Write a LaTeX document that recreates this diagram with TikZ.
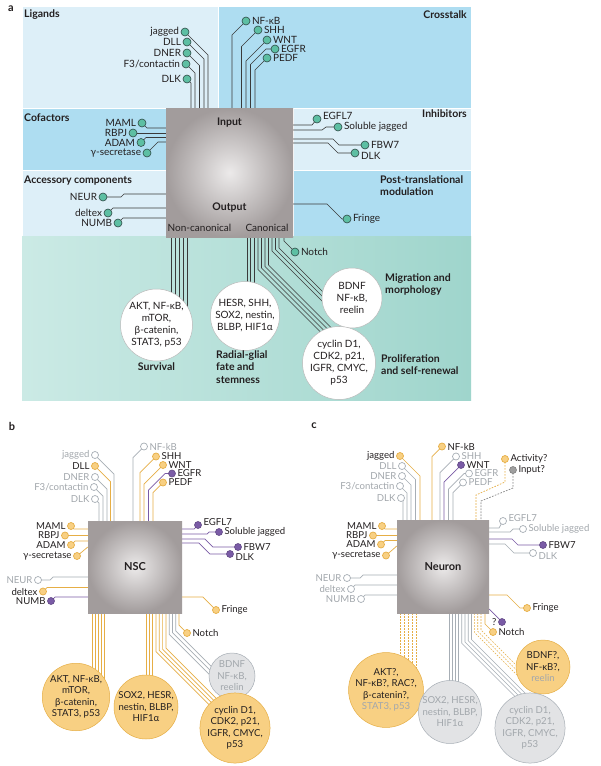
\documentclass[tikz,border=0pt]{standalone}
\usepackage{fontspec}
\setmainfont{Lato}
\pgfdeclarelayer{bg}
\pgfdeclarelayer{wires}
\pgfsetlayers{bg,wires,main}

\definecolor{ltblue}{HTML}{DDEFF8}
\definecolor{mdblue}{HTML}{AEDDF1}
\definecolor{tealA}{HTML}{CBEAE5}
\definecolor{tealB}{HTML}{9FD5CC}
\definecolor{tealdot}{HTML}{5DBFA3}
\definecolor{dotrim}{HTML}{2F4A46}
\definecolor{wdark}{HTML}{3A3A3A}
\definecolor{gold}{HTML}{E6AE45}
\definecolor{goldfill}{HTML}{F8D083}
\definecolor{grw}{HTML}{A7AEB5}
\definecolor{grfill}{HTML}{E2E3E5}
\definecolor{grtxt}{HTML}{A2A7AC}
\definecolor{purp}{HTML}{7A5BA6}
\definecolor{txt}{HTML}{231F20}
\definecolor{boxin}{HTML}{ECEAEA}
\definecolor{boxout}{HTML}{A29C9C}

\tikzset{
  lab/.style={font=\fontsize{10}{11}\selectfont, text=txt, inner xsep=1.5pt, inner ysep=0pt},
  blab/.style={lab, font=\fontsize{9.6}{11}\selectfont},
  glab/.style={blab, text=grtxt},
  head/.style={font=\fontsize{10.5}{12.5}\selectfont\bfseries, text=txt, inner sep=0pt},
  plabel/.style={font=\fontsize{11}{12}\selectfont\bfseries, text=txt, inner sep=0pt},
  region/.style={draw=white, line width=0.8pt},
  adot/.style={circle, fill=tealdot, draw=dotrim, line width=0.6pt, minimum size=8pt, inner sep=0pt},
  ydot/.style={circle, fill=goldfill, draw=gold, line width=0.7pt, minimum size=7pt, inner sep=0pt},
  gdot/.style={circle, fill=white, draw=grw, line width=0.7pt, minimum size=7pt, inner sep=0pt},
  pdot/.style={circle, fill=purp, draw=purp!80!black, line width=0.6pt, minimum size=7pt, inner sep=0pt},
  kdot/.style={circle, fill=gray!75, draw=gray, line width=0.6pt, minimum size=7pt, inner sep=0pt},
  awire/.style={draw=wdark, line width=0.6pt},
  ywire/.style={draw=gold, line width=0.7pt},
  gwire/.style={draw=grw, line width=0.7pt},
  pwire/.style={draw=purp, line width=0.7pt},
  dwire/.style={ywire, dash pattern=on 1.6pt off 1.4pt},
  kwire/.style={draw=gray, line width=0.7pt, dash pattern=on 1.6pt off 1.4pt},
  nbox/.style={inner color=boxin, outer color=boxout, inner sep=0pt, font=\fontsize{11}{12}\selectfont\bfseries, text=txt},
  acirc/.style={circle, fill=white, draw=gray!55, line width=0.5pt, inner sep=0pt, align=center, font=\fontsize{10}{12}\selectfont, text=txt},
  ycirc/.style={acirc, fill=goldfill, draw=gold, font=\fontsize{9.6}{11.5}\selectfont},
  gcirc/.style={acirc, fill=grfill, draw=grw, text=grtxt, font=\fontsize{9.6}{11.5}\selectfont}
}

\begin{document}
\begin{tikzpicture}[x=1pt, y=-1pt]
\useasboundingbox (0,0) rectangle (601,766);

\begin{pgfonlayer}{bg}
  \fill[white] (0,0) rectangle (601,766);
  % a: regions
  \path[region, fill=ltblue] (22,6) rectangle (218,108);
  \path[region, fill=mdblue] (218,6) rectangle (471,108);
  \path[region, fill=mdblue] (22,108) rectangle (166,170);
  \path[region, fill=ltblue] (293,108) rectangle (471,170);
  \path[region, fill=ltblue] (22,170) rectangle (166,236);
  \path[region, fill=mdblue] (293,170) rectangle (471,236);
  \shade[left color=tealA, right color=tealB] (22,236.5) rectangle (471,400);
\end{pgfonlayer}

% ---------- a ----------
\node[plabel] (aTag) at (11,9) {a};
\node[head, anchor=west] (aLig) at (24,15) {Ligands};
\node[head, anchor=east] (aCross) at (467,15) {Crosstalk};
\node[head, anchor=west] (aCof) at (24,118) {Cofactors};
\node[head, anchor=east] (aInh) at (467,114) {Inhibitors};
\node[head, anchor=west] (aAcc) at (24,181) {Accessory components};
\node[head, anchor=north west, align=left] (aPost) at (380,175) {Post-translational\\modulation};

\node[nbox, minimum width=127pt, minimum height=129pt] (aBox) at (229.5,172.5) {};
\node[head] (aIn) at (229.5,123) {Input};
\node[head] (aOut) at (229.5,208) {Output};
\node[lab] (aNonc) at (199.5,228) {Non-canonical};
\node[lab] (aCan) at (267,228) {Canonical};

% ligands
\foreach \n/\lbl/\x/\y/\tx in {aJag/jagged/185/32/208, aDll/DLL/187/42/204, aDner/DNER/187/53/199.5, aF3/{F3/contactin}/186/64/195, aDlk/DLK/187/79/191}{
  \node[adot, label={[lab]left:\lbl}] (\n) at (\x,\y) {};
  \begin{pgfonlayer}{wires}
    \draw[awire] (\n.center) -- ++({\tx-\x},{\tx-\x}) -- (\tx,0 |- aBox.north);
  \end{pgfonlayer}
}
% crosstalk
\foreach \n/\lbl/\x/\y/\tx in {aNfkb/NF-κB/246/21/232, aShh/SHH/258/30/241.5, aWnt/WNT/267/40/246, aPedf/PEDF/267/58/255}{
  \node[adot, label={[lab]right:\lbl}] (\n) at (\x,\y) {};
  \begin{pgfonlayer}{wires}
    \draw[awire] (\n.center) -- ++({\tx-\x},{\x-\tx}) -- (\tx,0 |- aBox.north);
  \end{pgfonlayer}
}
\node[adot, label={[lab]right:EGFR}] (aEgfr) at (275,49) {};

% cofactors, accessory
\node[adot, label={[lab]left:MAML}] (aMaml) at (142,123) {};
\node[adot, label={[lab]left:RBPJ}] (aRbpj) at (133,133) {};
\node[adot, label={[lab]left:ADAM}] (aAdam) at (141,142.5) {};
\node[adot, label={[lab]left:γ-secretase}] (aGsec) at (147,153) {};
\node[adot, label={[lab]left:NEUR}] (aNeur) at (103,197) {};
\node[adot, label={[lab]left:deltex}] (aDelt) at (108,213) {};
\node[adot, label={[lab]left:NUMB}] (aNumb) at (118,223) {};

% inhibitors, modulation
\node[adot, label={[lab,yshift=3pt]right:EGFL7}] (aEgfl) at (317,119) {};
\node[adot, label={[lab]right:Soluble jagged}] (aSolj) at (338,127) {};
\node[adot, label={[lab]right:FBW7}] (aFbw) at (365,145) {};
\node[adot, label={[lab,yshift=-3pt]right:DLK}] (aDlkR) at (355,153) {};
\node[adot, label={[lab]right:Fringe}] (aFrin) at (347,219) {};
\node[adot, label={[lab]right:Notch}] (aNotch) at (295,252) {};

% outputs
\node[acirc, minimum size=72pt] (aSurv) at (156.5,325) {AKT, NF-κB,\\mTOR,\\β-catenin,\\STAT3, p53};
\node[acirc, minimum size=69pt] (aRad) at (245,316) {HESR, SHH,\\SOX2, nestin,\\BLBP, HIF1α};
\node[acirc, minimum size=60pt] (aBdnf) at (352,298) {BDNF\\NF-κB,\\reelin};
\node[acirc, minimum size=66pt] (aCyc) at (339,363) {cyclin D1,\\CDK2, p21,\\IGFR, CMYC,\\p53};
\node[head] (aSurvL) at (156.5,367) {Survival};
\node[head, anchor=north west, align=left] (aRadL) at (216,350) {Radial-glial\\fate and\\stemness};
\node[head, anchor=north west, align=left] (aMigL) at (385,273) {Migration and\\morphology};
\node[head, anchor=north west, align=left] (aProL) at (381,354) {Proliferation\\and self-renewal};

\begin{pgfonlayer}{wires}
  \draw[awire] (aEgfr.center) -- (266,49) -- (250.5,64.5) -- (250.5,0 |- aBox.north);
  \draw[awire] (aMaml.center) -- ++(5,5) -- (0,128 -| aBox.west);
  \draw[awire] (aRbpj.center) -- (0,133 -| aBox.west);
  \draw[awire] (aAdam.center) -- ++(5,-5) -- (0,137.5 -| aBox.west);
  \draw[awire] (aGsec.center) -- ++(11,-11) -- (0,142 -| aBox.west);
  \draw[awire] (aNeur.center) -- ++(18,0) -- ++(3,-3) -- (0,194 -| aBox.west);
  \draw[awire] (aDelt.center) -- ++(5,-5) -- (0,208 -| aBox.west);
  \draw[awire] (aNumb.center) -- ++(5,-5) -- (0,218 -| aBox.west);
  \draw[awire] (aEgfl.center) -- (312,125) -- (0,125 -| aBox.east);
  \draw[awire] (aSolj.center) -- (326,127) -- (322,130) -- (0,130 -| aBox.east);
  \draw[awire] (aFbw.center) -- (339,145) -- (333,139) -- (0,139 -| aBox.east);
  \draw[awire] (aDlkR.center) -- (338,153) -- (328,143) -- (0,143 -| aBox.east);
  \draw[awire] (aFrin.center) -- (342,219) -- (327,204) -- (0,204 -| aBox.east);
  \draw[awire] (aNotch.center) -- (284,241) -- (284,0 |- aBox.south);
  \foreach \x in {171,175,179,183,187}
    \draw[awire] (\x,0 |- aBox.south) -- (\x,315);
  \foreach \x in {247,250.5,254}
    \draw[awire] (\x,0 |- aBox.south) -- (\x,300);
  \foreach \x/\yb in {258/269.5, 261.5/268, 265/266.5, 268.5/265}
    \draw[awire] (\x,0 |- aBox.south) -- (\x,\yb) -- ++({345-\x},{345-\x});
  \foreach \x/\yb in {272/251, 275.5/249.5, 279/248}
    \draw[awire] (\x,0 |- aBox.south) -- (\x,\yb) -- ++({340-\x},{340-\x});
\end{pgfonlayer}

% ---------- b ----------
\node[plabel] (bTag) at (12,426) {b};
\node[nbox, minimum width=94pt, minimum height=92pt] (bBox) at (135,567) {NSC};

\foreach \n/\lbl/\dt/\wt/\st/\x/\y/\tx in {bJag/jagged/gdot/gwire/glab/95/455/114, bDll/DLL/ydot/ywire/blab/95/466/110.5, bDner/DNER/gdot/gwire/glab/95/477/107, bF3/{F3/contactin}/gdot/gwire/glab/94/487/103, bDlk/DLK/gdot/gwire/glab/95/499/99}{
  \node[\dt, label={[\st]left:\lbl}] (\n) at (\x,\y) {};
  \begin{pgfonlayer}{wires}
    \draw[\wt] (\n.center) -- ++({\tx-\x},{\tx-\x}) -- (\tx,0 |- bBox.north);
  \end{pgfonlayer}
}
\foreach \n/\lbl/\dt/\wt/\st/\x/\y/\tx in {bNfkb/NF-kB/gdot/gwire/glab/144/446.5/133, bShh/SHH/ydot/ywire/blab/156/456.5/140, bWnt/WNT/ydot/ywire/blab/163/465/144, bPedf/PEDF/ydot/ywire/blab/163/482.5/153}{
  \node[\dt, label={[\st]right:\lbl}] (\n) at (\x,\y) {};
  \begin{pgfonlayer}{wires}
    \draw[\wt] (\n.center) -- ++({\tx-\x},{\x-\tx}) -- (\tx,0 |- bBox.north);
  \end{pgfonlayer}
}
\node[pdot, label={[blab]right:EGFR}] (bEgfr) at (172,473.5) {};

\node[ydot, label={[blab]left:MAML}] (bMaml) at (71,526) {};
\node[ydot, label={[blab]left:RBPJ}] (bRbpj) at (65,535.5) {};
\node[ydot, label={[blab]left:ADAM}] (bAdam) at (71,545) {};
\node[ydot, label={[blab]left:γ-secretase}] (bGsec) at (77,556) {};
\node[gdot, label={[glab]left:NEUR}] (bNeur) at (38,580) {};
\node[ydot, label={[blab]left:deltex}] (bDelt) at (43,591.5) {};
\node[pdot, label={[blab]left:NUMB}] (bNumb) at (51,601) {};

\node[pdot, label={[blab,yshift=3pt]right:EGFL7}] (bEgfl) at (198,525) {};
\node[pdot, label={[blab]right:Soluble jagged}] (bSolj) at (219,532) {};
\node[pdot, label={[blab]right:FBW7}] (bFbw) at (238,547) {};
\node[pdot, label={[blab,yshift=-3pt]right:DLK}] (bDlkR) at (230,554) {};
\node[ydot, label={[blab]right:Fringe}] (bFrin) at (216,610) {};
\node[ydot, label={[blab]right:Notch}] (bNotch) at (187,633) {};

\node[ycirc, minimum size=64pt] (bAkt) at (76,697) {AKT, NF-κB,\\mTOR,\\β-catenin,\\STAT3, p53};
\node[ycirc, minimum size=64pt] (bSox) at (146,707) {SOX2, HESR,\\nestin, BLBP,\\HIF1α};
\node[gcirc, minimum size=46pt] (bBdnf) at (232,676) {BDNF\\NF-κB,\\reelin};
\node[ycirc, minimum size=66pt] (bCyc) at (235,728) {cyclin D1,\\CDK2, p21,\\IGFR, CMYC,\\p53};

\begin{pgfonlayer}{wires}
  \draw[pwire] (bEgfr.center) -- (165,473.5) -- (148.5,490) -- (148.5,0 |- bBox.north);
  \draw[ywire] (bMaml.center) -- ++(3,3) -- (0,529 -| bBox.west);
  \draw[ywire] (bRbpj.center) -- (0,535.5 -| bBox.west);
  \draw[ywire] (bAdam.center) -- ++(4,-4) -- (0,541 -| bBox.west);
  \draw[ywire] (bGsec.center) -- (0,547 -| bBox.west);
  \draw[gwire] (bNeur.center) -- ++(12,0) -- ++(3,-3) -- (0,577 -| bBox.west);
  \draw[ywire] (bDelt.center) -- ++(4,-4) -- (0,587.5 -| bBox.west);
  \draw[pwire] (bNumb.center) -- ++(4,-4) -- (0,597 -| bBox.west);
  \draw[pwire] (bEgfl.center) -- (194,529) -- (0,529 -| bBox.east);
  \draw[pwire] (bSolj.center) -- (209,532) -- (207,534) -- (0,534 -| bBox.east);
  \draw[pwire] (bFbw.center) -- (213,547) -- (205,539) -- (0,539 -| bBox.east);
  \draw[pwire] (bDlkR.center) -- (210,554) -- (199,543) -- (0,543 -| bBox.east);
  \draw[ywire] (bFrin.center) -- (203,597) -- (0,597 -| bBox.east);
  \draw[ywire] (bNotch.center) -- (179,625) -- (179,0 |- bBox.south);
  \foreach \x in {92,95.2,98.4,101.6,104.8}
    \draw[ywire] (\x,0 |- bBox.south) -- (\x,690);
  \foreach \x in {146,149.3,152.6}
    \draw[ywire] (\x,0 |- bBox.south) -- (\x,700);
  \foreach \x/\yb in {156/651.5, 159.3/650.3, 162.6/649.1, 165.9/648}
    \draw[ywire] (\x,0 |- bBox.south) -- (\x,\yb) -- ++({228-\x},{228-\x});
  \foreach \x/\yb in {169.2/634.2, 172.5/632.5, 175.8/630.8}
    \draw[gwire] (\x,0 |- bBox.south) -- (\x,\yb) -- ++({226-\x},{226-\x});
\end{pgfonlayer}

% ---------- c ----------
\node[plabel] (cTag) at (314,426) {c};
\node[nbox, minimum width=92pt, minimum height=93pt] (cBox) at (443,566.5) {Neuron};

\foreach \n/\lbl/\dt/\wt/\st/\x/\y/\tx in {cJag/jagged/ydot/ywire/blab/400/456/420, cDll/DLL/gdot/gwire/glab/402/466/415.5, cDner/DNER/gdot/gwire/glab/402/476/411, cF3/{F3/contactin}/gdot/gwire/glab/400/486/407, cDlk/DLK/gdot/gwire/glab/401/498/403}{
  \node[\dt, label={[\st]left:\lbl}] (\n) at (\x,\y) {};
  \begin{pgfonlayer}{wires}
    \draw[\wt] (\n.center) -- ++({\tx-\x},{\tx-\x}) -- (\tx,0 |- cBox.north);
  \end{pgfonlayer}
}
\foreach \n/\lbl/\dt/\wt/\st/\x/\y/\tx in {cNfkb/NF-kB/ydot/ywire/blab/442/446.5/432, cShh/SHH/gdot/gwire/glab/456/456.5/440, cWnt/WNT/pdot/pwire/blab/461/465/444, cPedf/PEDF/gdot/gwire/glab/463/482.5/453}{
  \node[\dt, label={[\st]right:\lbl}] (\n) at (\x,\y) {};
  \begin{pgfonlayer}{wires}
    \draw[\wt] (\n.center) -- ++({\tx-\x},{\x-\tx}) -- (\tx,0 |- cBox.north);
  \end{pgfonlayer}
}
\node[gdot, label={[glab]right:EGFR}] (cEgfr) at (469,473.5) {};
\node[ydot, label={[blab]right:Activity?}] (cAct) at (505,459) {};
\node[kdot, label={[blab]right:Input?}] (cInp) at (513,470) {};

\node[ydot, label={[blab]left:MAML}] (cMaml) at (382,526) {};
\node[ydot, label={[blab]left:RBPJ}] (cRbpj) at (373,535.5) {};
\node[ydot, label={[blab]left:ADAM}] (cAdam) at (381,544.5) {};
\node[ydot, label={[blab]left:γ-secretase}] (cGsec) at (386,555.5) {};
\node[gdot, label={[glab]left:NEUR}] (cNeur) at (347,578) {};
\node[gdot, label={[glab]left:deltex}] (cDelt) at (351,589) {};
\node[gdot, label={[glab]left:NUMB}] (cNumb) at (361,599) {};

\node[gdot, label={[glab,yshift=3pt]right:EGFL7}] (cEgfl) at (503,521) {};
\node[gdot, label={[glab]right:Soluble jagged}] (cSolj) at (523,529) {};
\node[pdot, label={[blab]right:FBW7}] (cFbw) at (543,545) {};
\node[gdot, label={[glab,yshift=-3pt]right:DLK}] (cDlkR) at (533,553) {};
\node[ydot, label={[blab]right:Fringe}] (cFrin) at (527,608) {};
\node[pdot, label={[blab]left:?}] (cQ) at (502,622) {};
\node[ydot, label={[blab]right:Notch}] (cNotch) at (493,632) {};

\node[ycirc, minimum size=66pt] (cAkt) at (386,690) {AKT?,\\NF-κB?, RAC?,\\β-catenin?,\\\textcolor{grtxt}{STAT3, p53}};
\node[gcirc, minimum size=60pt] (cSox) at (450,712) {SOX2, HESR,\\nestin, BLBP,\\HIF1α};
\node[ycirc, minimum size=54pt] (cBdnf) at (543,667) {BDNF?,\\NF-κB?,\\\textcolor{grtxt}{reelin}};
\node[gcirc, minimum size=64pt] (cCyc) at (530,728) {cyclin D1,\\CDK2, p21,\\IGFR, CMYC,\\p53};

\begin{pgfonlayer}{wires}
  \draw[gwire] (cEgfr.center) -- (464,473.5) -- (448.5,489) -- (448.5,0 |- cBox.north);
  \draw[dwire] (cAct.center) -- (505,482) -- (476,495) -- (476,0 |- cBox.north);
  \draw[kwire] (cInp.center) -- (513,488) -- (481,501) -- (481,0 |- cBox.north);
  \draw[ywire] (cMaml.center) -- ++(3,3) -- (0,529 -| cBox.west);
  \draw[ywire] (cRbpj.center) -- (0,535.5 -| cBox.west);
  \draw[ywire] (cAdam.center) -- ++(4,-4) -- (0,540.5 -| cBox.west);
  \draw[ywire] (cGsec.center) -- (0,546 -| cBox.west);
  \draw[gwire] (cNeur.center) -- ++(13,0) -- ++(3,-3) -- (0,575 -| cBox.west);
  \draw[gwire] (cDelt.center) -- ++(4,-4) -- (0,585 -| cBox.west);
  \draw[gwire] (cNumb.center) -- ++(4,-4) -- (0,595 -| cBox.west);
  \draw[gwire] (cEgfl.center) -- (499,528) -- (0,528 -| cBox.east);
  \draw[gwire] (cSolj.center) -- (513,529) -- (510,532) -- (0,532 -| cBox.east);
  \draw[pwire] (cFbw.center) -- (518,545) -- (512,539) -- (0,539 -| cBox.east);
  \draw[gwire] (cDlkR.center) -- (514,553) -- (505,544) -- (0,544 -| cBox.east);
  \draw[ywire] (cFrin.center) -- (520,608) -- (507,595) -- (0,595 -| cBox.east);
  \draw[pwire] (cQ.center) -- (0,609 -| cBox.east);
  \draw[ywire] (cNotch.center) -- (485,624) -- (485,0 |- cBox.south);
  \foreach \x in {400,404,408,412,416}
    \draw[dwire] (\x,0 |- cBox.south) -- (\x,685);
  \foreach \x in {449,452.2,455.4,458.6}
    \draw[gwire] (\x,0 |- cBox.south) -- (\x,700);
  \foreach \x/\yb in {461.8/643.3, 465/642, 468.2/640.7, 471.4/639.4}
    \draw[gwire] (\x,0 |- cBox.south) -- (\x,\yb) -- ++({535-\x},{535-\x});
  \foreach \x/\yb in {474.6/632.6, 477.8/631.3, 481/630}
    \draw[dwire] (\x,0 |- cBox.south) -- (\x,\yb) -- ++({530-\x},{530-\x});
\end{pgfonlayer}
\end{tikzpicture}
\end{document}
